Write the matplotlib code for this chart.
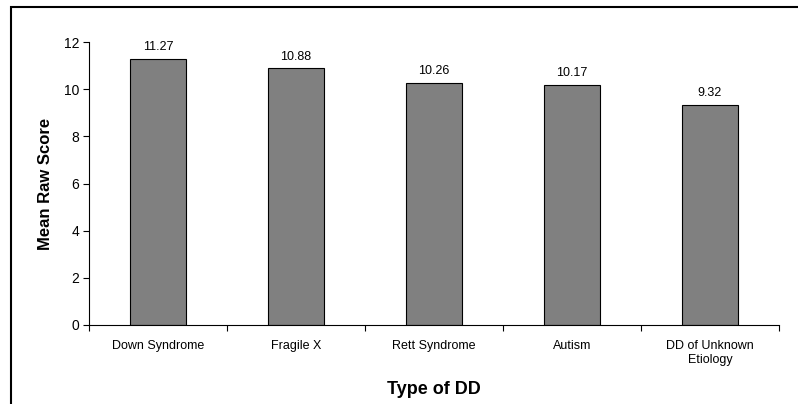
import numpy as np
import matplotlib
matplotlib.use("Agg")
import matplotlib.pyplot as plt
from matplotlib.patches import Rectangle

# data
categories = ["Down Syndrome", "Fragile X", "Rett Syndrome", "Autism", "DD of Unknown\nEtiology"]
scores = [11.27, 10.88, 10.26, 10.17, 9.32]

plt.rcParams['font.family'] = ['Liberation Sans', 'DejaVu Sans']

fig = plt.figure(figsize=(7.98, 4.04), dpi=100)
ax = fig.add_axes([89 / 798, 1 - 325 / 404, 690 / 798, 283 / 404])

# outer frame of the chart area
fig.patches.append(Rectangle((11 / 798, -0.1), 1.2, 1.1 - 7 / 404, transform=fig.transFigure,
                             fill=False, edgecolor='black', linewidth=1.5))

x = np.arange(len(categories))
bars = ax.bar(x, scores, width=0.41, color='#808080', edgecolor='black', linewidth=0.8)

for xi, v in zip(x, scores):
    ax.text(xi, v + 0.25, '%.2f' % v, ha='center', va='bottom', fontsize=9)

ax.set_xlim(-0.5, len(categories) - 0.5)
ax.set_ylim(0, 12)
ax.set_yticks(range(0, 13, 2))
ax.set_xticks(np.arange(-0.5, len(categories)), minor=False)
ax.set_xticklabels([])
ax.set_xticks(x, minor=True)
ax.set_xticklabels(categories, minor=True, fontsize=9)
ax.tick_params(axis='x', which='minor', length=0, pad=11)
ax.tick_params(axis='x', which='major', length=4, direction='out')
ax.tick_params(axis='y', length=4, labelsize=10, pad=3)

ax.spines['top'].set_visible(False)
ax.spines['right'].set_visible(False)

ax.set_ylabel('Mean Raw Score', fontsize=12, fontweight='bold', labelpad=8)
ax.set_xlabel('Type of DD', fontsize=13, fontweight='bold', labelpad=11)

fig.savefig('out.png', dpi=100)
